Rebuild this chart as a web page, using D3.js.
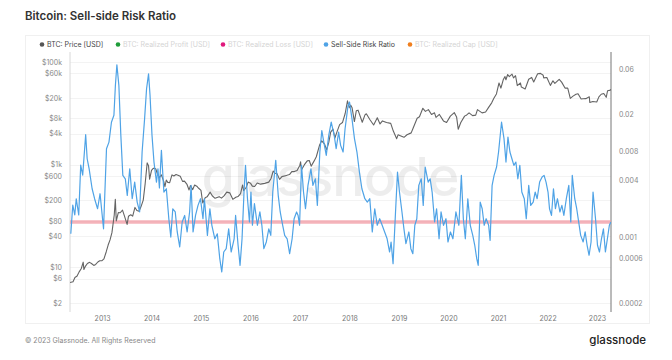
<!DOCTYPE html>
<html><head><meta charset="utf-8">
<script src="https://cdn.jsdelivr.net/npm/d3@7/dist/d3.min.js"></script>
<style>
html,body{margin:0;padding:0;background:#fff;}
svg{display:block;font-family:Inter,"Open Sans",sans-serif;}
</style></head>
<body>
<svg id="chart" width="672" height="360"></svg>
<script>
// ---------------- DATA ----------------
const priceDates = ["2012-05-10","2012-06-01","2012-06-15","2012-07-01","2012-07-15","2012-08-01","2012-08-15","2012-08-20","2012-09-01","2012-09-15","2012-10-01","2012-10-15","2012-11-01","2012-11-15","2012-12-01","2012-12-15","2013-01-01","2013-01-15","2013-02-01","2013-02-15","2013-03-01","2013-03-15","2013-04-01","2013-04-09","2013-04-16","2013-05-01","2013-05-15","2013-06-01","2013-06-15","2013-07-05","2013-07-15","2013-08-01","2013-08-15","2013-09-01","2013-09-15","2013-10-01","2013-10-15","2013-11-01","2013-11-15","2013-11-30","2013-12-10","2013-12-18","2014-01-01","2014-01-15","2014-02-01","2014-02-15","2014-03-01","2014-03-15","2014-04-01","2014-04-10","2014-04-20","2014-05-01","2014-05-15","2014-06-01","2014-06-15","2014-07-01","2014-07-15","2014-08-01","2014-08-18","2014-09-01","2014-09-20","2014-10-05","2014-10-15","2014-11-01","2014-11-15","2014-12-01","2014-12-15","2015-01-01","2015-01-14","2015-02-01","2015-02-15","2015-03-10","2015-03-25","2015-04-15","2015-05-15","2015-06-01","2015-06-20","2015-07-10","2015-08-01","2015-08-24","2015-09-15","2015-10-01","2015-10-20","2015-11-04","2015-11-12","2015-12-01","2015-12-15","2016-01-01","2016-01-15","2016-02-01","2016-02-20","2016-03-15","2016-04-15","2016-05-15","2016-06-01","2016-06-17","2016-07-01","2016-07-15","2016-08-03","2016-08-20","2016-09-15","2016-10-15","2016-11-01","2016-11-20","2016-12-10","2016-12-30","2017-01-05","2017-01-11","2017-02-01","2017-02-23","2017-03-10","2017-03-24","2017-04-15","2017-05-01","2017-05-25","2017-06-10","2017-07-01","2017-07-16","2017-08-01","2017-08-15","2017-09-01","2017-09-15","2017-10-01","2017-10-20","2017-11-10","2017-11-30","2017-12-17","2017-12-30","2018-01-10","2018-01-20","2018-02-06","2018-02-20","2018-03-05","2018-04-05","2018-04-25","2018-05-05","2018-06-01","2018-06-28","2018-07-25","2018-08-14","2018-09-01","2018-10-01","2018-11-01","2018-11-20","2018-12-15","2018-12-25","2019-01-15","2019-02-07","2019-03-01","2019-04-01","2019-04-15","2019-05-15","2019-06-01","2019-06-26","2019-07-15","2019-08-06","2019-08-29","2019-09-20","2019-10-01","2019-10-26","2019-11-25","2019-12-18","2020-01-15","2020-02-13","2020-03-01","2020-03-13","2020-04-01","2020-04-29","2020-05-15","2020-06-01","2020-06-27","2020-07-20","2020-08-02","2020-09-05","2020-10-01","2020-10-22","2020-11-15","2020-12-01","2020-12-20","2021-01-08","2021-01-22","2021-02-08","2021-02-21","2021-02-28","2021-03-13","2021-03-25","2021-04-14","2021-04-25","2021-05-10","2021-05-23","2021-06-15","2021-06-22","2021-07-20","2021-08-15","2021-09-06","2021-09-21","2021-10-20","2021-11-10","2021-11-30","2021-12-04","2021-12-27","2022-01-22","2022-02-10","2022-02-24","2022-03-28","2022-04-15","2022-05-10","2022-05-30","2022-06-18","2022-07-08","2022-07-30","2022-08-14","2022-09-06","2022-09-20","2022-10-10","2022-11-05","2022-11-09","2022-12-01","2022-12-30","2023-01-15","2023-02-01","2023-02-20","2023-03-10","2023-03-20","2023-04-10","2023-04-13"];
const priceValues = [5.0,5.2,6.3,6.7,8.0,9.4,12.5,9.0,10.5,11.8,12.4,11.8,10.8,11.3,12.6,13.3,13.4,14.5,20,27,34,47,104,210,80,116,115,129,100,68,98,105,99,146,127,123,150,203,420,1080,950,520,770,850,830,640,560,630,470,370,500,450,445,630,600,640,620,590,470,475,410,320,390,325,400,378,345,315,178,226,235,290,247,220,237,222,245,290,281,210,230,238,270,400,310,362,455,434,380,373,438,415,430,455,536,750,676,665,515,582,608,638,730,730,770,960,1130,780,985,1180,1200,930,1180,1420,2400,2900,2500,1930,2700,4300,4900,3300,4400,6000,6600,9900,17500,12900,14400,12800,6900,11200,11500,6700,9300,9800,7500,5900,8200,6200,7100,6600,6350,4500,3200,3800,3600,3400,3820,4150,5100,8000,8550,12500,10900,11800,9500,10200,8300,9500,7100,6600,8800,10300,8500,4900,6600,8800,9300,10200,9000,9200,11800,10200,10600,12900,16000,19700,23800,39000,31000,45000,52000,45000,57000,52000,58000,49000,54000,34700,39000,32500,29800,46000,50000,40700,59000,60000,55000,49000,50000,35000,43000,38300,46000,40500,31000,31000,19500,21600,23500,24000,19000,19200,19300,21000,16200,17000,16600,20900,23500,24300,20500,27500,28300,29500];

const ssrYears = [2012.37,2012.41,2012.45,2012.48,2012.53,2012.57,2012.61,2012.67,2012.70,2012.74,2012.80,2012.85,2012.91,2012.96,2013.03,2013.09,2013.14,2013.19,2013.24,2013.27,2013.30,2013.34,2013.38,2013.42,2013.47,2013.51,2013.56,2013.61,2013.66,2013.71,2013.76,2013.81,2013.86,2013.90,2013.94,2013.97,2014.01,2014.05,2014.10,2014.13,2014.16,2014.20,2014.25,2014.30,2014.35,2014.39,2014.43,2014.48,2014.52,2014.57,2014.62,2014.67,2014.72,2014.77,2014.80,2014.84,2014.89,2014.94,2014.99,2015.04,2015.07,2015.13,2015.18,2015.22,2015.28,2015.33,2015.38,2015.42,2015.46,2015.51,2015.56,2015.61,2015.67,2015.70,2015.75,2015.79,2015.83,2015.87,2015.90,2015.94,2015.98,2016.01,2016.04,2016.08,2016.14,2016.19,2016.23,2016.27,2016.32,2016.37,2016.41,2016.45,2016.51,2016.56,2016.60,2016.65,2016.69,2016.74,2016.79,2016.84,2016.88,2016.93,2016.96,2016.99,2017.03,2017.07,2017.11,2017.16,2017.22,2017.26,2017.31,2017.35,2017.40,2017.44,2017.48,2017.53,2017.58,2017.63,2017.69,2017.73,2017.78,2017.82,2017.87,2017.91,2017.97,2018.00,2018.05,2018.10,2018.15,2018.20,2018.25,2018.31,2018.36,2018.41,2018.46,2018.51,2018.56,2018.61,2018.66,2018.71,2018.76,2018.81,2018.84,2018.88,2018.93,2018.97,2019.01,2019.06,2019.10,2019.14,2019.20,2019.24,2019.28,2019.32,2019.36,2019.40,2019.45,2019.49,2019.53,2019.59,2019.63,2019.67,2019.72,2019.76,2019.81,2019.85,2019.90,2019.95,2019.99,2020.04,2020.09,2020.15,2020.21,2020.26,2020.30,2020.34,2020.39,2020.44,2020.49,2020.53,2020.57,2020.60,2020.64,2020.68,2020.72,2020.76,2020.81,2020.84,2020.88,2020.92,2020.97,2021.01,2021.07,2021.12,2021.16,2021.20,2021.24,2021.28,2021.32,2021.36,2021.40,2021.44,2021.48,2021.53,2021.57,2021.62,2021.66,2021.71,2021.75,2021.79,2021.84,2021.89,2021.93,2021.97,2022.01,2022.04,2022.08,2022.12,2022.16,2022.20,2022.25,2022.29,2022.33,2022.38,2022.43,2022.47,2022.50,2022.55,2022.59,2022.63,2022.67,2022.72,2022.76,2022.80,2022.84,2022.88,2022.92,2022.97,2023.01,2023.05,2023.09,2023.13,2023.17,2023.21,2023.25,2023.28];
const ssrValues = [0.00108,0.00218,0.00171,0.00254,0.00171,0.00577,0.00452,0.0121,0.00673,0.00527,0.00324,0.00254,0.00199,0.00287,0.00122,0.00859,0.0101,0.0164,0.0194,0.0403,0.0665,0.0403,0.0119,0.00449,0.00413,0.00276,0.00527,0.00254,0.00381,0.00234,0.00184,0.00793,0.0178,0.0371,0.0533,0.0316,0.0119,0.00621,0.00381,0.00527,0.00330,0.00826,0.00299,0.00324,0.00156,0.000998,0.00199,0.00184,0.00113,0.000783,0.00144,0.00169,0.00113,0.00184,0.00352,0.00113,0.00169,0.00216,0.00254,0.00156,0.00254,0.00104,0.00199,0.00133,0.000957,0.00108,0.000589,0.000426,0.000693,0.000752,0.00122,0.000693,0.000957,0.00169,0.000817,0.000501,0.000957,0.00299,0.00573,0.00254,0.00144,0.00299,0.00133,0.00225,0.00133,0.00184,0.00133,0.000752,0.000885,0.00122,0.00104,0.00299,0.00647,0.00276,0.00184,0.00133,0.00104,0.000957,0.000665,0.000957,0.00156,0.00184,0.00169,0.00133,0.00573,0.00299,0.00199,0.00352,0.00527,0.00352,0.00413,0.00216,0.00793,0.0134,0.0101,0.00731,0.0119,0.0164,0.0119,0.00859,0.0129,0.00933,0.00793,0.0140,0.0247,0.0268,0.0178,0.0110,0.00793,0.00486,0.00324,0.00254,0.00234,0.00254,0.00113,0.00199,0.00133,0.00156,0.00133,0.00113,0.000957,0.000693,0.000885,0.000521,0.00184,0.00486,0.00299,0.00184,0.00122,0.000849,0.00113,0.000752,0.000665,0.00133,0.00156,0.00352,0.00413,0.00216,0.00550,0.00381,0.00413,0.00299,0.00144,0.00199,0.000957,0.00184,0.00133,0.00156,0.000885,0.00113,0.000957,0.00184,0.00133,0.00449,0.00156,0.000957,0.00254,0.00133,0.00104,0.000817,0.000589,0.000501,0.00234,0.00199,0.00133,0.00156,0.00133,0.000921,0.00352,0.00449,0.00550,0.00793,0.0164,0.0110,0.00621,0.0114,0.00793,0.00673,0.00573,0.00621,0.00413,0.00573,0.00299,0.00254,0.00156,0.00352,0.00216,0.00234,0.00299,0.00254,0.00381,0.00431,0.00449,0.00381,0.00299,0.00199,0.00169,0.00324,0.00199,0.00254,0.00184,0.00216,0.00169,0.00254,0.00352,0.00144,0.00449,0.00254,0.00199,0.00144,0.00104,0.000885,0.00113,0.000817,0.000640,0.000885,0.00299,0.00156,0.000817,0.000693,0.000957,0.00122,0.000693,0.000957,0.00133,0.00144];

const ssrThreshold = [0.00144];

const priceTicks = [2,6,10,40,80,200,600,1000,4000,8000,20000,60000,100000];
const priceTickLabels = ["$2","$6","$10","$40","$80","$200","$600","$1k","$4k","$8k","$20k","$60k","$100k"];
const ssrTicks = [0.0002,0.0006,0.001,0.004,0.008,0.02,0.06];
const ssrTickLabels = ["0.0002","0.0006","0.001","0.004","0.008","0.02","0.06"];
const yearTicks = [2013,2014,2015,2016,2017,2018,2019,2020,2021,2022,2023];

const legendNames = ["BTC: Price [USD]","BTC: Realized Profit [USD]","BTC: Realized Loss [USD]","Sell-Side Risk Ratio","BTC: Realized Cap [USD]"];
const legendColors = ["#555555","#1f9d3a","#e0197d","#4fa3e6","#f07f1e"];
const legendActive = [true,false,false,true,false];

// ---------------- LAYOUT ----------------
const svg = d3.select("#chart");
const L = 70, R = 611, T = 52, B = 312;

function decToDate(y){
  const yr = Math.floor(y);
  const s = new Date(yr,0,1), e = new Date(yr+1,0,1);
  return new Date(s.getTime() + (y-yr)*(e-s));
}

const x = d3.scaleTime()
  .domain([decToDate(2012.354), decToDate(2023.283)])
  .range([L, R]);
const yP = d3.scaleLog().domain([2,100000]).range([303,62]);
const yS = d3.scaleLog().domain([0.0002,0.06]).range([303,69]);

// card frame
svg.append("rect").attr("x",25.5).attr("y",35.5).attr("width",624).attr("height",288)
  .attr("fill","none").attr("stroke","#f0f0f0");

// title
svg.append("text").attr("x",25).attr("y",20).attr("font-size",11.5).attr("font-weight",600)
  .attr("fill","#333").text("Bitcoin: Sell-side Risk Ratio");

// legend
let lx = [42,118,223,326,410];
legendNames.forEach((n,i)=>{
  svg.append("circle").attr("cx",lx[i]).attr("cy",44.5).attr("r",2.3).attr("fill",legendColors[i]);
  svg.append("text").attr("x",lx[i]+5).attr("y",47).attr("font-size",7)
    .attr("fill",legendActive[i] ? "#444" : "#d4d4d4").text(n);
});

// gridlines
svg.append("g").selectAll("line").data(priceTicks).join("line")
  .attr("x1",L).attr("x2",R).attr("y1",d=>Math.round(yP(d))+0.5).attr("y2",d=>Math.round(yP(d))+0.5)
  .attr("stroke","#f3f3f3");

// watermark
svg.append("text").attr("x",330).attr("y",196).attr("text-anchor","middle")
  .attr("font-size",54).attr("font-weight",500).attr("fill","#000").attr("fill-opacity",0.07)
  .attr("letter-spacing",-1).text("glassnode");

// axes
const gL = svg.append("g").attr("transform",`translate(${L},0)`)
  .call(d3.axisLeft(yP).tickValues(priceTicks).tickFormat((d,i)=>priceTickLabels[i]).tickSize(0).tickPadding(8));
gL.select(".domain").attr("stroke","#d8d8d8").attr("d",`M0,${T}V${B}`);
gL.selectAll("text").attr("font-size",7).attr("fill","#888").attr("font-family","Inter,sans-serif");

const gR = svg.append("g").attr("transform",`translate(${R},0)`)
  .call(d3.axisRight(yS).tickValues(ssrTicks).tickFormat((d,i)=>ssrTickLabels[i]).tickSize(0).tickPadding(8));
gR.select(".domain").attr("stroke","#777").attr("d",`M0,${T}V${B}`);
gR.selectAll("text").attr("font-size",7).attr("fill","#888").attr("font-family","Inter,sans-serif");

const gX = svg.append("g").attr("transform",`translate(0,${B})`)
  .call(d3.axisBottom(x).tickValues(yearTicks.map(y=>new Date(y,0,1))).tickFormat(d3.timeFormat("%Y")).tickSize(0).tickPadding(4));
gX.select(".domain").remove();
gX.selectAll("text").attr("font-size",7).attr("fill","#777").attr("font-family","Inter,sans-serif");

// clip
svg.append("clipPath").attr("id","clip").append("rect").attr("x",L).attr("y",T).attr("width",R-L).attr("height",B-T);
const plot = svg.append("g").attr("clip-path","url(#clip)");

// threshold band
plot.selectAll("line.th").data(ssrThreshold).join("line").attr("class","th")
  .attr("x1",L).attr("x2",R).attr("y1",d=>yS(d)).attr("y2",d=>yS(d))
  .attr("stroke","#f29aa3").attr("stroke-opacity",0.75).attr("stroke-width",3.5);

// price line
const pParse = d3.timeParse("%Y-%m-%d");
const priceData = priceDates.map((d,i)=>({t:pParse(d), v:priceValues[i]}));
plot.append("path").datum(priceData)
  .attr("fill","none").attr("stroke","#646464").attr("stroke-width",1.1).attr("stroke-linejoin","round")
  .attr("d", d3.line().x(d=>x(d.t)).y(d=>yP(d.v)));

// SSR line
const ssrData = ssrYears.map((y,i)=>({t:decToDate(y), v:ssrValues[i]}));
plot.append("path").datum(ssrData)
  .attr("fill","none").attr("stroke","#4fa3e6").attr("stroke-width",1.2).attr("stroke-linejoin","round")
  .attr("d", d3.line().x(d=>x(d.t)).y(d=>yS(d.v)));

// footer
svg.append("text").attr("x",25).attr("y",343).attr("font-size",7).attr("fill","#888")
  .text("© 2023 Glassnode. All Rights Reserved");
svg.append("text").attr("x",646).attr("y",344).attr("text-anchor","end").attr("font-size",11.5)
  .attr("font-weight",500).attr("fill","#222").text("glassnode");
</script>
</body></html>
